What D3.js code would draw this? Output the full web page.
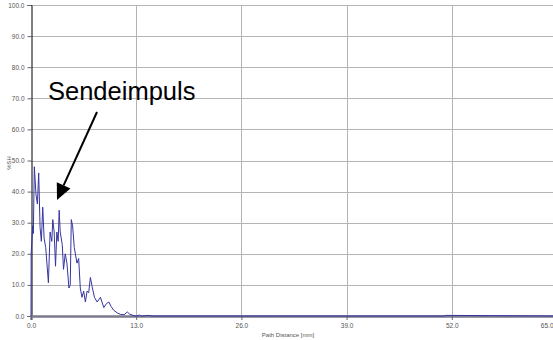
<!DOCTYPE html>
<html>
<head>
<meta charset="utf-8">
<script src="https://cdn.jsdelivr.net/npm/d3@7/dist/d3.min.js"></script>
<style>
  body { margin: 0; background: #fff; }
  svg { display: block; font-family: Arial, "Liberation Sans", sans-serif; }
</style>
</head>
<body>
<div class="chart"></div>
<script>
// path distance in mm
var distance = [0.00, 0.02, 0.08, 0.21, 0.29, 0.41, 0.62, 0.79, 0.95, 1.12, 1.28, 1.45, 1.62, 1.82,
	2.15, 2.36, 2.57, 2.69, 2.86, 3.03, 3.19, 3.36, 3.48, 3.61, 3.86, 4.02, 4.23, 4.44, 4.69,
	4.85, 4.98, 5.14, 5.35, 5.68, 5.89, 6.09, 6.30, 6.51, 6.72, 6.93, 7.13, 7.34, 7.55, 7.84,
	8.17, 8.58, 9.00, 9.33, 9.62, 9.91, 10.24, 10.66, 11.07, 11.5, 11.9, 12.2, 12.6, 13.0,
	13.4, 13.6, 14.5, 15.0, 30.0, 51.0, 51.3, 65.0];
// amplitude in %SH
var amplitude = [0, 20, 23, 29, 26.5, 48, 39, 36, 46, 28.5, 24, 35, 25, 22,
	10.7, 27, 24, 31, 27, 16, 27, 24, 34, 27, 23, 15, 20, 17, 9,
	10, 31, 29, 22, 17, 18.5, 9, 6, 8, 4.5, 8, 7.5, 12.4, 9.5, 6,
	4.5, 6, 2.7, 4, 4.5, 3, 1.8, 1, 0.5, 0.4, 1.3, 0.6, 0.2, 0,
	0.3, 0, 0.2, 0, 0, 0, 0.2, 0];
var xTicks = [0, 13, 26, 39, 52, 65];
var yTicks = [0, 10, 20, 30, 40, 50, 60, 70, 80, 90, 100];

var width = 553, height = 340;
var plotLeft = 31, plotRight = 557, plotTop = 5, plotBottom = 316;
var gridColor = '#b4b4b4', textColor = '#555';
var tickSize = 6.5;

var svg = d3.select('.chart').append('svg')
	.attr('width', width)
	.attr('height', height);

var x = d3.scaleLinear().domain([0, 65]).range([plotLeft, plotRight]);
var y = d3.scaleLinear().domain([0, 100]).range([plotBottom, plotTop]);

// grid
svg.append('g').selectAll('line').data(yTicks.slice(1)).join('line')
	.attr('x1', plotLeft).attr('x2', width)
	.attr('y1', function(d){ return Math.round(y(d)) + 0.5; })
	.attr('y2', function(d){ return Math.round(y(d)) + 0.5; })
	.attr('stroke', gridColor).attr('stroke-width', 1);
svg.append('g').selectAll('line').data(xTicks.slice(1)).join('line')
	.attr('y1', plotTop).attr('y2', plotBottom)
	.attr('x1', function(d){ return Math.round(x(d)) + 0.5; })
	.attr('x2', function(d){ return Math.round(x(d)) + 0.5; })
	.attr('stroke', gridColor).attr('stroke-width', 1);

// y axis
var yAxis = svg.append('g')
	.attr('transform', 'translate(' + (plotLeft + 0.5) + ',0)')
	.call(d3.axisLeft(y).tickValues(yTicks).tickFormat(d3.format('.1f')).tickSize(4).tickPadding(3));
yAxis.select('.domain').attr('stroke', '#000');
yAxis.selectAll('.tick line').attr('stroke', '#666');
yAxis.selectAll('text').attr('font-size', tickSize).attr('fill', textColor).attr('font-family', 'Arial, "Liberation Sans", sans-serif');

// x axis
var xAxis = svg.append('g')
	.attr('transform', 'translate(0,' + plotBottom + ')')
	.call(d3.axisBottom(x).tickValues(xTicks).tickFormat(d3.format('.1f')).tickSize(4).tickPadding(3));
xAxis.select('.domain').attr('stroke', '#7a7a8c').attr('stroke-width', 2.5);
xAxis.selectAll('.tick line').attr('stroke', '#666');
xAxis.selectAll('text').attr('font-size', tickSize).attr('fill', textColor).attr('font-family', 'Arial, "Liberation Sans", sans-serif');
xAxis.selectAll('.tick').filter(function(d){ return d == 65; }).select('text')
	.attr('text-anchor', 'end').attr('x', width - x(65));

// data trace
var pts = distance.map(function(d, i){ return [d, amplitude[i]]; });
svg.append('path')
	.datum(pts)
	.attr('d', d3.line().x(function(d){ return x(d[0]); }).y(function(d){ return y(d[1]); }))
	.attr('fill', 'none')
	.attr('stroke', '#3535a0')
	.attr('stroke-width', 1)
	.attr('stroke-linejoin', 'round');

// axis titles
svg.append('text')
	.attr('transform', 'translate(11,' + 163 + ') rotate(-90)')
	.attr('text-anchor', 'middle')
	.attr('font-size', 6)
	.attr('fill', textColor)
	.text('%SH');
svg.append('text')
	.attr('x', 288).attr('y', 337)
	.attr('text-anchor', 'middle')
	.attr('font-size', 6)
	.attr('fill', textColor)
	.text('Path Distance [mm]');

// annotation
svg.append('text')
	.attr('x', 48).attr('y', 100)
	.attr('font-size', 25.5)
	.attr('fill', '#000')
	.text('Sendeimpuls');
var ax1 = 97, ay1 = 112, ax2 = 57, ay2 = 200;
var ang = Math.atan2(ay2 - ay1, ax2 - ax1), headLen = 16, headW = 7.5;
var bx = ax2 - headLen * Math.cos(ang), by = ay2 - headLen * Math.sin(ang);
svg.append('line')
	.attr('x1', ax1).attr('y1', ay1).attr('x2', bx).attr('y2', by)
	.attr('stroke', '#000').attr('stroke-width', 2);
svg.append('path')
	.attr('d', 'M' + ax2 + ',' + ay2 +
		'L' + (bx + headW * Math.sin(ang)) + ',' + (by - headW * Math.cos(ang)) +
		'L' + (bx - headW * Math.sin(ang)) + ',' + (by + headW * Math.cos(ang)) + 'Z')
	.attr('fill', '#000');
</script>
</body>
</html>
